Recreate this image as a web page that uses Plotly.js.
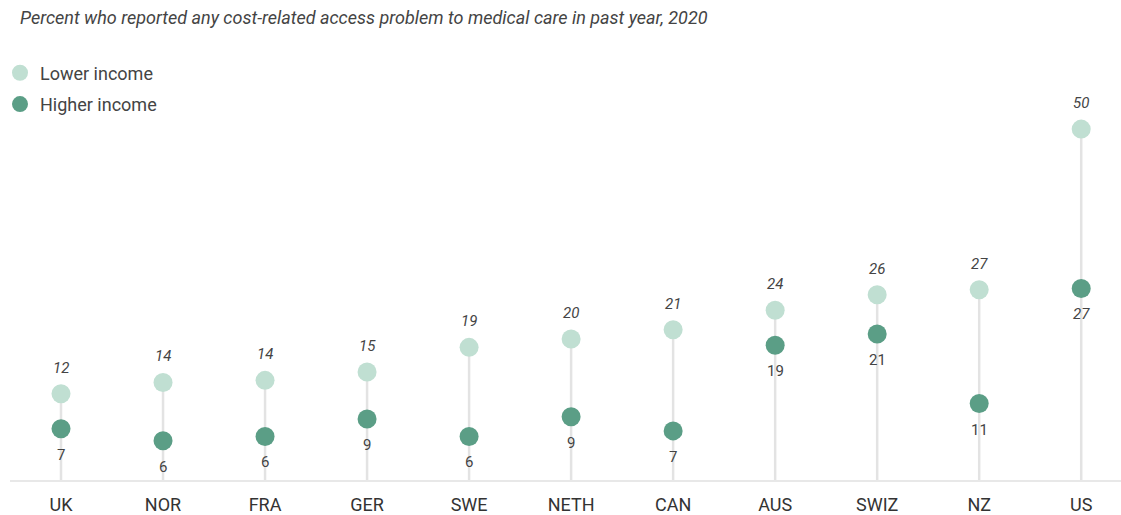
<!DOCTYPE html>
<html>
<head>
<meta charset="utf-8">
<script src="https://cdn.plot.ly/plotly-3.0.1.min.js"></script>
<style>html,body{margin:0;padding:0;background:#fff;}#chart{width:1121px;height:515px;}</style>
</head>
<body>
<div id="chart"></div>
<script>
const countries = ["UK","NOR","FRA","GER","SWE","NETH","CAN","AUS","SWIZ","NZ","US"];
const lowerIncome = [12.3, 13.9, 14.2, 15.4, 18.9, 20.1, 21.4, 24.2, 26.4, 27.1, 50];
const higherIncome = [7.3, 5.6, 6.2, 8.7, 6.2, 9.0, 7.0, 19.2, 20.8, 10.9, 27.3];
const higherLabelStyle = ["normal","normal","normal","normal","normal","normal","normal","normal","normal","normal","italic"];

const stemX = [], stemY = [];
countries.forEach((c, i) => { stemX.push(c, c, null); stemY.push(0, lowerIncome[i], null); });

const data = [
  {x: stemX, y: stemY, type: 'scatter', mode: 'lines', line: {color: '#e3e3e3', width: 2.5},
   showlegend: false, hoverinfo: 'skip'},
  {x: countries, y: lowerIncome, name: 'Lower income', legendgroup: 'a', type: 'scatter', mode: 'markers',
   marker: {size: 19, color: '#c0dfd2'}, cliponaxis: false},
  {x: countries, y: higherIncome, name: 'Higher income', legendgroup: 'b', type: 'scatter', mode: 'markers',
   marker: {size: 19, color: '#5b9e86'}, cliponaxis: false}
];

const labelFont = {family: 'Roboto, sans-serif', size: 15, color: '#444'};
const annotations = [];
countries.forEach((c, i) => {
  annotations.push({x: c, y: lowerIncome[i], text: '<i>' + Math.round(lowerIncome[i]) + '</i>',
    showarrow: false, yshift: 26, font: labelFont});
  const t = String(Math.round(higherIncome[i]));
  annotations.push({x: c, y: higherIncome[i], text: higherLabelStyle[i] === 'italic' ? '<i>' + t + '</i>' : t,
    showarrow: false, yshift: -26, font: labelFont});
});

const layout = {
  width: 1121, height: 515,
  margin: {l: 9, r: 0, t: 40, b: 35},
  paper_bgcolor: '#fff', plot_bgcolor: '#fff',
  font: {family: 'Roboto, sans-serif', color: '#333'},
  title: {text: 'Percent who reported any cost-related access problem to medical care in past year, 2020',
          x: 0.009, xanchor: 'left', y: 0.965, yanchor: 'middle', xref: 'paper',
          font: {size: 18, style: 'italic', color: '#444'}},
  xaxis: {type: 'category', range: [-0.5, 10.39], showgrid: false, zeroline: false,
          showline: true, linecolor: '#e8e8e8', linewidth: 1.5, ticks: '', ticklabelstandoff: 8,
          tickfont: {size: 18, color: '#333'}, automargin: false},
  yaxis: {range: [0, 62.7], showgrid: false, zeroline: false, showticklabels: false, showline: false},
  legend: {x: -0.009, y: 0.967, xanchor: 'left', yanchor: 'top', font: {size: 18, color: '#444'},
           tracegroupgap: 5, itemwidth: 30, bgcolor: 'rgba(0,0,0,0)'},
  annotations: annotations,
  showlegend: true
};

Plotly.newPlot('chart', data, layout, {displayModeBar: false, staticPlot: true});
</script>
</body>
</html>
